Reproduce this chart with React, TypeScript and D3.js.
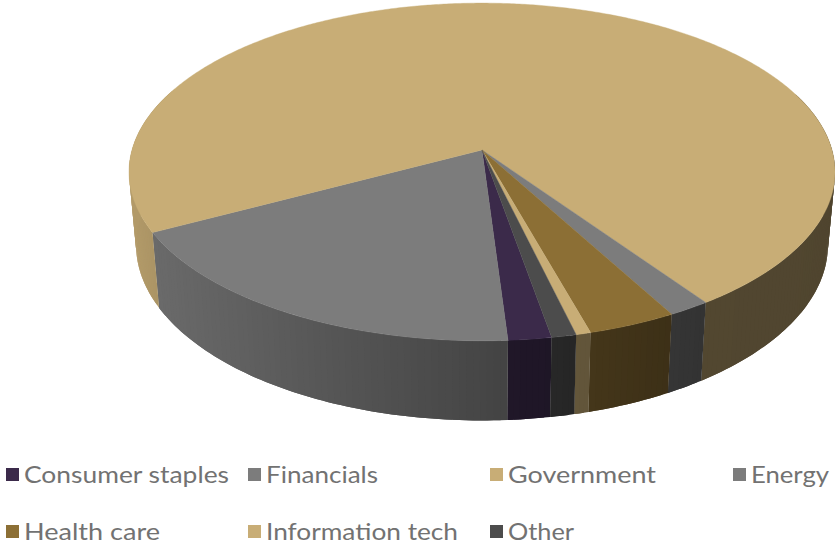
import React from "react";
import * as d3 from "d3";

// Portfolio allocation by sector, in percent, listed clockwise from the first slice.
const sectors = ["Consumer staples", "Financials", "Government", "Energy", "Health care", "Information tech", "Other"];
const shares = [1.75, 18.3, 73.1, 1.7, 3.6, 0.6, 1.0];
const topColors = ["#3b2a4a", "#7c7c7c", "#c8ad76", "#7c7c7c", "#8c6f35", "#c8ad76", "#4c4c4c"];
const labelWidths = [205, 112, 148, 78, 136, 192, 66];

const W = 835;
const H = 544;
const DEG = Math.PI / 180;

// Tilted disc: a perspective mapping of the unit circle onto the page.
const APEX = { x: 482, y: 150 };
const RX = 350;
const RY = 166;
const KEYSTONE = 0.13;

const project = (a: number, base: boolean): [number, number] => {
  const u = Math.sin(a);
  const v = -Math.cos(a);
  const w = 1 - KEYSTONE * v;
  const px = (RX * u) / w;
  const py = (RY * v) / w;
  return base ? [APEX.x + px * 0.98, 222 + py * 1.04] : [APEX.x + px, APEX.y + py];
};

// Wall brightness falls off from left to right across the disc.
const wallShade = d3.scaleLinear().domain([129, 160, 300, 500, 700, 835]).range([0.9, 0.85, 0.72, 0.55, 0.41, 0.4]);

const shadeColor = (base: string, f: number) => {
  const c = d3.rgb(base);
  return d3.rgb(c.r * f, c.g * f, c.b * f).formatHex();
};

const sampleAngles = (a0: number, a1: number, step: number) => {
  const n = Math.max(2, Math.ceil((a1 - a0) / (step * DEG)));
  return d3.range(n + 1).map((i) => a0 + ((a1 - a0) * i) / n);
};

const linePath = d3.line();

const pie = d3
  .pie<number>()
  .sort(null)
  .startAngle(170 * DEG)
  .endAngle((170 + 360) * DEG);

const arcs = pie(shares);

const columns = [6, 248, 490, 733];
const rows = [468, 525];

// Only the near part of the rim shows a wall; the rest sits behind the top face.
const isFront = (a: number) => Math.cos(a) < 0.35;

export default function App() {
  return (
    <svg width={W} height={H} style={{ position: "absolute", left: 0, top: 0, display: "block" }}>
      {arcs.map((s, i) => {
        const angles = sampleAngles(s.startAngle, s.endAngle, 1);
        return (
          <g key={i}>
            {d3.pairs(angles).map(([a0, a1], j) => {
              const mid = (a0 + a1) / 2;
              if (!isFront(mid)) return null;
              // Each facet runs one step past its end so the next one covers the joint.
              const a2 = Math.min(s.endAngle, a1 + (a1 - a0));
              const corners = [project(a0, false), project(a1, false), project(a2, false), project(a2, true), project(a1, true), project(a0, true)];
              const midX = (project(a0, false)[0] + project(a1, false)[0] + project(a0, true)[0] + project(a1, true)[0]) / 4;
              const shade = shadeColor(topColors[i], wallShade(midX) as number);
              return <path key={j} d={linePath(corners) + "Z"} fill={shade} />;
            })}
          </g>
        );
      })}

      {arcs.map((s, i) => {
        const rim = sampleAngles(s.startAngle, s.endAngle, 0.5).map((a) => project(a, false));
        return (
          <path
            key={i}
            d={linePath([[APEX.x, APEX.y], ...rim]) + "Z"}
            fill={topColors[i]}
            stroke={topColors[i]}
            strokeWidth={0.4}
          />
        );
      })}

      {sectors.map((name, i) => {
        const x = columns[i % 4];
        const y = rows[Math.floor(i / 4)];
        return (
          <g key={name}>
            <rect x={x} y={y} width={13} height={13} fill={topColors[i]} />
            <text
              x={x + 18}
              y={y + 14.5}
              fontFamily="Lato, 'Open Sans', sans-serif"
              fontSize={24}
              fontWeight={400}
              textLength={labelWidths[i]}
              lengthAdjust="spacingAndGlyphs"
              fill="#727272"
            >
              {name}
            </text>
          </g>
        );
      })}
    </svg>
  );
}
